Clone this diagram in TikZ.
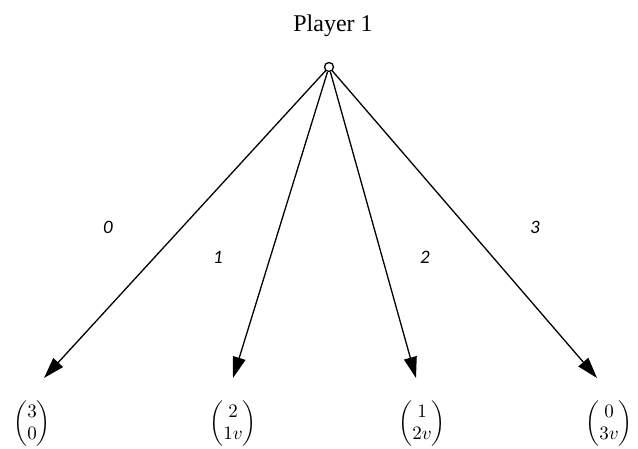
\documentclass[tikz,border=0pt]{standalone}
\usepackage{amsmath}
\usepackage{fontspec}
\setmainfont{Liberation Serif}
\newfontfamily\lblfont{Carlito}
\usetikzlibrary{arrows.meta}
\newcommand{\payvec}[2]{\scalebox{1.9}{$\begin{pmatrix}#1\\#2\end{pmatrix}$}}
\begin{document}
\begin{tikzpicture}[x=1pt,y=-1pt,
  edge/.style={line width=1.3pt,-{Triangle[length=21pt,width=13pt]}},
  lbl/.style={font=\fontsize{19}{22}\selectfont\lblfont\itshape},
  payoff/.style={inner sep=0pt,font=\fontsize{10}{12}\selectfont},
  rootnode/.style={circle,draw,line width=1.3pt,inner sep=0pt,minimum size=9pt}]
\useasboundingbox (0,0) rectangle (638,448);
\node[font=\fontsize{24}{28}\selectfont] (title) at (333,26) {Player 1};
\node[rootnode] (root) at (329,67) {};
\coordinate (t0) at (44,378);
\coordinate (t1) at (233,378);
\coordinate (t2) at (416,378);
\coordinate (t3) at (597,378);
\draw[edge] (root) -- (t0);
\draw[edge] (root) -- (t1);
\draw[edge] (root) -- (t2);
\draw[edge] (root) -- (t3);
\node[lbl] (l0) at (108,227) {0};
\node[lbl] (l1) at (218,257) {1};
\node[lbl] (l2) at (425,257) {2};
\node[lbl] (l3) at (535,227) {3};
\node[payoff] (p0) at (32,424) {\payvec{3}{0}};
\node[payoff] (p1) at (233,424) {\payvec{2}{1v}};
\node[payoff] (p2) at (422,424) {\payvec{1}{2v}};
\node[payoff] (p3) at (609,424) {\payvec{0}{3v}};
\end{tikzpicture}
\end{document}
